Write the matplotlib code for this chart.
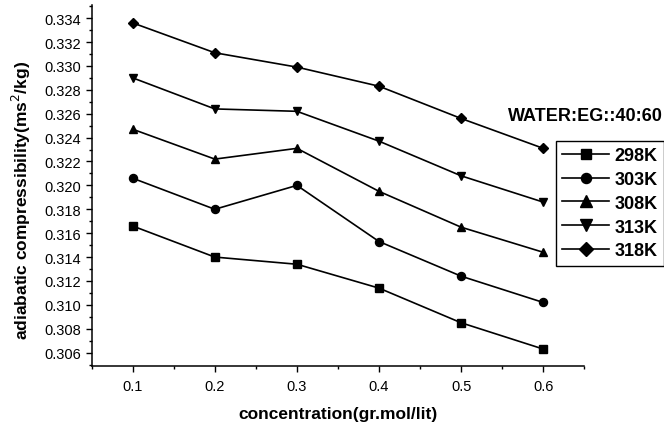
import matplotlib
matplotlib.use("Agg")
import matplotlib.pyplot as plt
from matplotlib.ticker import MultipleLocator, FormatStrFormatter

# data
conc = [0.1, 0.2, 0.3, 0.4, 0.5, 0.6]
k298 = [0.3166, 0.3140, 0.3134, 0.3114, 0.3085, 0.3063]
k303 = [0.3206, 0.3180, 0.3200, 0.3153, 0.3124, 0.3102]
k308 = [0.3247, 0.3222, 0.3231, 0.3195, 0.3165, 0.3144]
k313 = [0.3290, 0.3264, 0.3262, 0.3237, 0.3208, 0.3186]
k318 = [0.3336, 0.3311, 0.3299, 0.3283, 0.3256, 0.3231]
labels = ["298K", "303K", "308K", "313K", "318K"]
markers = ["s", "o", "^", "v", "D"]
sizes = [5.6, 5.8, 6.4, 6.4, 5.4]

plt.rcParams["font.family"] = ["Liberation Sans", "DejaVu Sans"]

fig = plt.figure(figsize=(6.64, 4.27), dpi=100)
ax = fig.add_axes([0.138, 0.141, 0.742, 0.845])

for ys, lab, m, ms in zip([k298, k303, k308, k313, k318], labels, markers, sizes):
    ax.plot(conc, ys, color="black", lw=1.2, marker=m, ms=ms, label=lab)

ax.set_xlim(0.05, 0.65)
ax.set_ylim(0.3049, 0.3351)
ax.xaxis.set_major_locator(MultipleLocator(0.1))
ax.xaxis.set_minor_locator(MultipleLocator(0.05))
ax.yaxis.set_major_locator(MultipleLocator(0.002))
ax.yaxis.set_minor_locator(MultipleLocator(0.001))
ax.xaxis.set_major_formatter(FormatStrFormatter("%.1f"))
ax.yaxis.set_major_formatter(FormatStrFormatter("%.3f"))

for s in ["top", "right"]:
    ax.spines[s].set_visible(False)
for s in ["left", "bottom"]:
    ax.spines[s].set_linewidth(1.1)

ax.tick_params(which="major", direction="out", length=4.2, width=1.0, labelsize=10.5, pad=3.5)
ax.tick_params(axis="x", which="major", pad=5)
ax.tick_params(which="minor", direction="out", length=2.2, width=1.0)

ax.set_xlabel("concentration(gr.mol/lit)", fontsize=12.5, fontweight="bold")
ax.xaxis.set_label_coords(0.5, -0.112)
ax.set_ylabel("adiabatic compressibility(ms$^{2}$/kg)", fontsize=12.5, fontweight="bold")
ax.yaxis.set_label_coords(-0.12, 0.462)

fig.text(0.881, 0.727, "WATER:EG::40:60", fontsize=13, fontweight="bold",
         ha="center", va="center")

leg = ax.legend(loc="upper left", bbox_to_anchor=(0.8373, 0.6682), bbox_transform=fig.transFigure,
                frameon=True, fancybox=False, framealpha=1, edgecolor="black",
                prop={"weight": "bold", "size": 13}, handlelength=2.6, handletextpad=0.3,
                labelspacing=0.38, borderpad=0.35, borderaxespad=0, markerscale=1.25)
leg.get_frame().set_linewidth(1.0)

fig.savefig("out.png", dpi=100)
